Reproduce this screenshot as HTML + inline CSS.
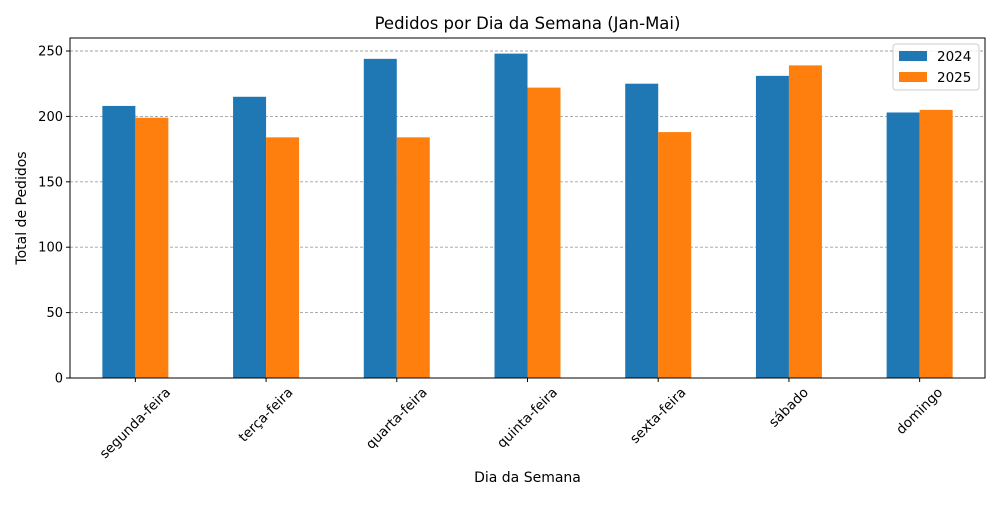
<!DOCTYPE html>
<html><head><meta charset="utf-8"><style>
body{margin:0;background:#fff;font-family:"Liberation Sans","DejaVu Sans",sans-serif;}
</style></head><body>
<svg id="chart" width="1000" height="500" xmlns="http://www.w3.org/2000/svg" font-family="DejaVu Sans, Liberation Sans, sans-serif"></svg>
<script>
const categories=["segunda-feira","terça-feira","quarta-feira","quinta-feira","sexta-feira","sábado","domingo"];
const series2024=[208,215,244,248,225,231,203];
const series2025=[199,184,184,222,188,239,205];
const yTicks=[0,50,100,150,200,250];
const svg=document.getElementById('chart');
const NS="http://www.w3.org/2000/svg";
const L=70,R=985,T=38,B=378;
const yMax=250/ (378-51) * (B-T);
function y(v){return B-v/yMax*(B-T);}
const step=(R-L)/categories.length;
function xc(i){return L+step*(i+0.5);}
const bw=33;
function el(tag,attrs,parent){const e=document.createElementNS(NS,tag);for(const k in attrs)e.setAttribute(k,attrs[k]);(parent||svg).appendChild(e);return e;}
yTicks.forEach(v=>{
  const g=el('line',{x1:L,x2:R,y1:y(v),y2:y(v),stroke:'#a0a0a0','stroke-dasharray':'3,2','stroke-width':0.9});
  
  
  el('line',{x1:L-4,x2:L,y1:y(v),y2:y(v),stroke:'#000'});
  const t=el('text',{x:L-7,y:y(v)+4.5,'text-anchor':'end','font-size':13});
  t.textContent=v;
  
  
});
categories.forEach((c,i)=>{
  const b1=el('rect',{x:xc(i)-bw,y:y(series2024[i]),width:bw,height:B-y(series2024[i]),fill:'#1f77b4'});
  
  
  const b2=el('rect',{x:xc(i),y:y(series2025[i]),width:bw,height:B-y(series2025[i]),fill:'#ff7f0e'});
  
  
  el('line',{x1:xc(i),x2:xc(i),y1:B,y2:B+4,stroke:'#000'});
  const t=el('text',{x:0,y:0,'text-anchor':'middle','font-size':13.5,'dominant-baseline':'central'});
  t.textContent=c;
  
  
  const w=t.getComputedTextLength();
  const half=(w+15)*0.7071/2;
  const cx=xc(i), cy=B+7+half;
  t.setAttribute('x',cx);t.setAttribute('y',cy);
  t.setAttribute('transform',`rotate(-45 ${cx} ${cy})`);
});
const frame=el('rect',{x:L,y:T,width:R-L,height:B-T,fill:'none',stroke:'#000','stroke-width':1});


const title=el('text',{x:(L+R)/2,y:29,'text-anchor':'middle','font-size':16.5});
title.textContent='Pedidos por Dia da Semana (Jan-Mai)';


const xt=el('text',{x:(L+R)/2,y:482,'text-anchor':'middle','font-size':14});
xt.textContent='Dia da Semana';


const yt=el('text',{x:26,y:(T+B)/2,'text-anchor':'middle','font-size':14,transform:`rotate(-90 26 ${(T+B)/2})`});
yt.textContent='Total de Pedidos';


const lg=el('g',{});


el('rect',{x:893,y:44,width:86,height:46,rx:3,fill:'#fff',stroke:'#ccc','fill-opacity':0.8},lg);
[['2024','#1f77b4'],['2025','#ff7f0e']].forEach((s,k)=>{
  el('rect',{x:899,y:51+k*21,width:28,height:10,fill:s[1]},lg);
  const t=el('text',{x:937,y:61+k*21,'font-size':13.5},lg);
  t.textContent=s[0];
  
  
});
</script>
</body></html>
